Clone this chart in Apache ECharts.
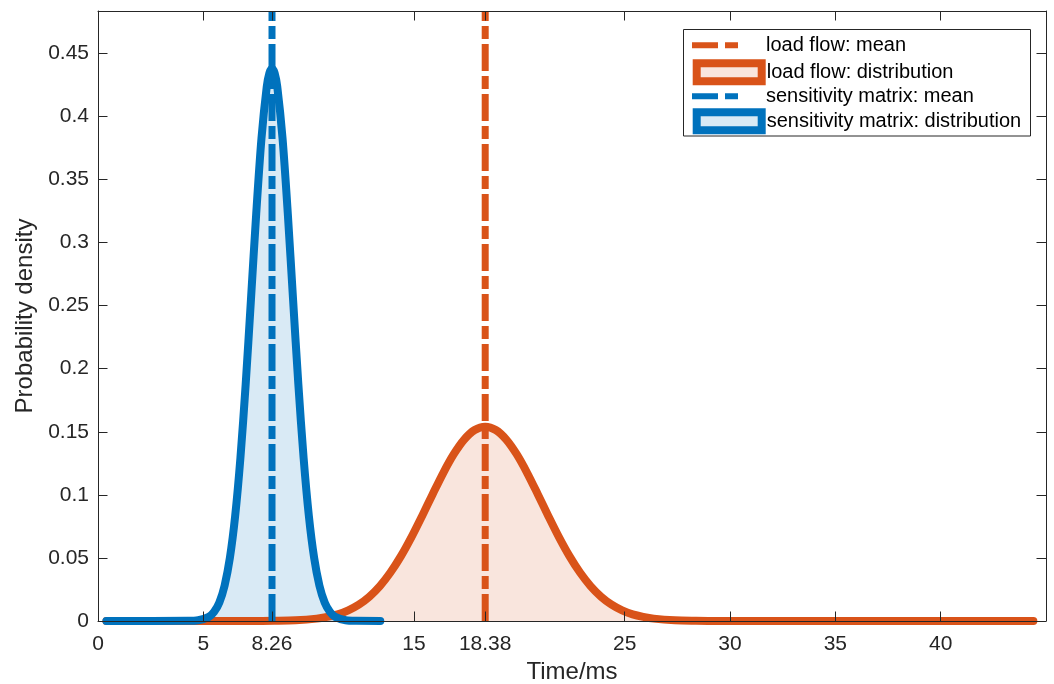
<!DOCTYPE html>
<html>
<head>
<meta charset="utf-8">
<script src="https://cdn.jsdelivr.net/npm/echarts@6/dist/echarts.min.js"></script>
<style>
html,body{margin:0;padding:0;background:#fff;}
#chart{width:1054px;height:684px;}
</style>
</head>
<body>
<div id="chart"></div>
<script>
// ---- data ----
const xTickValues = [0, 5, 8.26, 15, 18.38, 25, 30, 35, 40];
const meanLoadFlow = 18.38;
const meanSensitivity = 8.26;
const meanLineY = [0, 0.4835];

const loadFlowX = [0.4, 7.38, 8.38, 9.38, 10.38, 10.88, 11.38, 11.88, 12.38, 12.88, 13.38, 13.88, 14.38, 14.88, 15.38, 15.88, 16.38, 16.88, 17.38, 17.88, 18.38, 18.88, 19.38, 19.88, 20.38, 20.88, 21.38, 21.88, 22.38, 22.88, 23.38, 23.88, 24.38, 24.88, 25.38, 25.88, 26.38, 27.38, 28.38, 29.38, 44.4];
const loadFlowY = [0, 0, 0.0002, 0.0006, 0.0019, 0.0033, 0.0053, 0.0085, 0.0130, 0.0193, 0.0277, 0.0384, 0.0514, 0.0665, 0.0831, 0.1003, 0.1171, 0.1320, 0.1438, 0.1514, 0.1540, 0.1514, 0.1438, 0.1320, 0.1171, 0.1003, 0.0831, 0.0665, 0.0514, 0.0384, 0.0277, 0.0193, 0.0130, 0.0085, 0.0053, 0.0033, 0.0019, 0.0006, 0.0002, 0, 0];

const sensX = [0.4, 4.26, 4.76, 5.26, 5.51, 5.76, 6.01, 6.26, 6.51, 6.76, 7.01, 7.26, 7.51, 7.76, 8.01, 8.135, 8.26, 8.385, 8.51, 8.76, 9.01, 9.26, 9.51, 9.76, 10.01, 10.26, 10.51, 10.76, 11.01, 11.26, 11.76, 12.26, 13.4];
const sensY = [0, 0.0001, 0.0006, 0.0033, 0.0072, 0.0147, 0.0281, 0.0500, 0.0831, 0.1292, 0.1876, 0.2546, 0.3228, 0.3825, 0.4234, 0.4343, 0.4380, 0.4343, 0.4234, 0.3825, 0.3228, 0.2546, 0.1876, 0.1292, 0.0831, 0.0500, 0.0281, 0.0147, 0.0072, 0.0033, 0.0006, 0.0001, 0];

const names = ['load flow: mean', 'load flow: distribution', 'sensitivity matrix: mean', 'sensitivity matrix: distribution'];
// ---------------------------------------------

const ORANGE = '#D95319', BLUE = '#0072BD';
const ORANGE_FILL = 'rgba(217,83,25,0.15)', BLUE_FILL = 'rgba(0,114,189,0.15)';
const AX = '#262626';
const FONT = '"Liberation Sans", Arial, Helvetica, sans-serif';

const pairs = (xs, ys) => xs.map((x, i) => [x, ys[i]]);
const vline = (x) => meanLineY.map(y => [x, y]);

const chart = echarts.init(document.getElementById('chart'), null, {renderer: 'canvas'});

const dashIcon = 'path://M0,0H26V6H0Z M33,0H46V6H33Z';
function lineLegend(name, color, top) {
  return {
    data: [{name: name, icon: dashIcon}],
    left: 692, top: top, padding: 0, selectedMode: false,
    itemWidth: 46, itemHeight: 6,
    itemStyle: {color: color, borderWidth: 0},
    textStyle: {fontSize: 20, lineHeight: 20, color: '#000', fontFamily: FONT, padding: [0, 0, 0, 23]}
  };
}
function areaLegend(name, color, fill, top) {
  return {
    data: [{name: name, icon: 'rect'}],
    left: 692.7, top: top, padding: 0, selectedMode: false,
    itemWidth: 65, itemHeight: 18,
    itemStyle: {color: fill, borderColor: color, borderWidth: 8},
    textStyle: {fontSize: 20, lineHeight: 20, color: '#000', fontFamily: FONT, padding: [0, 0, 0, 0]}
  };
}

const xCommon = {
  type: 'value', min: 0, max: 45,
  axisLine: {show: true, onZero: false, lineStyle: {color: AX, width: 1}},
  axisTick: {show: true, inside: true, length: 9.5, customValues: xTickValues, lineStyle: {color: AX, width: 1}},
  splitLine: {show: false},
  z: 10
};
const yCommon = {
  type: 'value', min: 0, max: 0.4835, interval: 0.05,
  axisLine: {show: true, onZero: false, lineStyle: {color: AX, width: 1}},
  axisTick: {show: true, inside: true, length: 9.5, lineStyle: {color: AX, width: 1}},
  splitLine: {show: false},
  z: 10
};

const option = {
  animation: false,
  backgroundColor: '#fff',
  grid: {left: 98, right: 8, top: 11, bottom: 63, containLabel: false, outerBoundsMode: 'none'},
  xAxis: [
    Object.assign({}, xCommon, {
      position: 'bottom',
      name: 'Time/ms', nameLocation: 'middle', nameGap: 37,
      nameTextStyle: {fontSize: 24, color: AX, fontFamily: FONT},
      axisLabel: {show: true, customValues: xTickValues, fontSize: 21, color: AX, fontFamily: FONT, margin: 13}
    }),
    Object.assign({}, xCommon, {position: 'top', axisLabel: {show: false}})
  ],
  yAxis: [
    Object.assign({}, yCommon, {
      position: 'left',
      name: 'Probability density', nameLocation: 'middle', nameGap: 59,
      nameTextStyle: {fontSize: 24, color: AX, fontFamily: FONT},
      axisLabel: {show: true, fontSize: 21, color: AX, fontFamily: FONT, margin: 9, showMaxLabel: false}
    }),
    Object.assign({}, yCommon, {position: 'right', axisLabel: {show: false}})
  ],
  legend: [
    lineLegend(names[0], ORANGE, 35.3),
    areaLegend(names[1], ORANGE, ORANGE_FILL, 59.2),
    lineLegend(names[2], BLUE, 86.3),
    areaLegend(names[3], BLUE, BLUE_FILL, 108.3)
  ],
  graphic: [{
    type: 'rect', z: 3, silent: true,
    shape: {x: 683.5, y: 29.5, width: 347, height: 106.5},
    style: {fill: '#fff', stroke: AX, lineWidth: 1}
  }],
  series: [
    {
      name: names[0], type: 'line', data: vline(meanLoadFlow), showSymbol: false, symbol: 'none',
      color: ORANGE,
      lineStyle: {color: ORANGE, width: 7, type: [27, 5, 13, 5], cap: 'butt'}
    },
    {
      name: names[1], type: 'line', data: pairs(loadFlowX, loadFlowY), showSymbol: false, symbol: 'none',
      color: ORANGE, smooth: 0.3,
      lineStyle: {color: ORANGE, width: 8, cap: 'round', join: 'round'},
      areaStyle: {color: ORANGE, opacity: 0.15, origin: 'start'}
    },
    {
      name: names[2], type: 'line', data: vline(meanSensitivity), showSymbol: false, symbol: 'none',
      color: BLUE,
      lineStyle: {color: BLUE, width: 7, type: [27, 5, 13, 5], cap: 'butt'}
    },
    {
      name: names[3], type: 'line', data: pairs(sensX, sensY), showSymbol: false, symbol: 'none',
      color: BLUE, smooth: 0.3,
      lineStyle: {color: BLUE, width: 8, cap: 'round', join: 'round'},
      areaStyle: {color: BLUE, opacity: 0.15, origin: 'start'}
    }
  ]
};
chart.setOption(option);
</script>
</body>
</html>
